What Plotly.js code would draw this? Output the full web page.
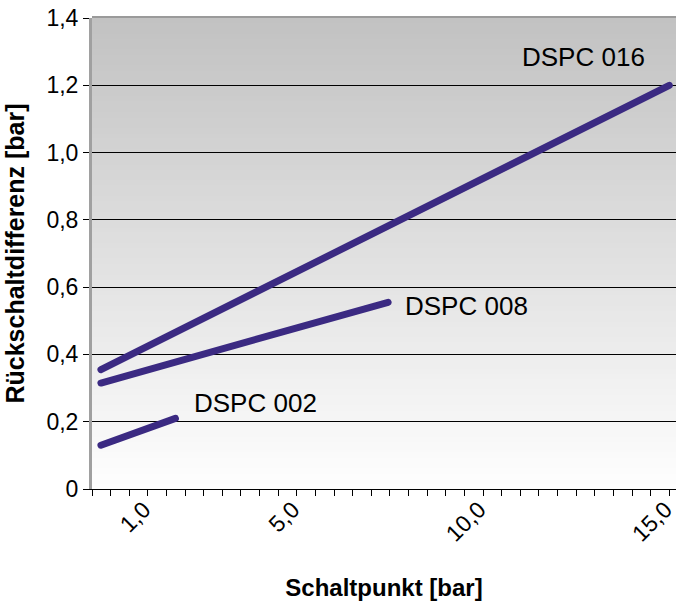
<!DOCTYPE html>
<html>
<head>
<meta charset="utf-8">
<script src="https://cdn.plot.ly/plotly-3.0.1.min.js"></script>
<style>
  html, body { margin: 0; padding: 0; background: #fff; }
  #chart { width: 676px; height: 601px; }
  .scatterlayer .js-line { stroke-linecap: round; }
</style>
</head>
<body>
<div id="chart"></div>
<script>
// ---- data ----
const seriesNames = ['DSPC 002', 'DSPC 008', 'DSPC 016'];
const dspc002X = [-0.26, 1.74];
const dspc002Y = [0.13, 0.21];
const dspc008X = [-0.26, 7.45];
const dspc008Y = [0.315, 0.555];
const dspc016X = [-0.26, 15.0];
const dspc016Y = [0.355, 1.2];

const xTickVals = [1, 5, 10, 15];
const xTickText = ['1,0', '5,0', '10,0', '15,0'];
const yTickVals = [0, 0.2, 0.4, 0.6, 0.8, 1.0, 1.2, 1.4];
const yTickText = ['0', '0,2', '0,4', '0,6', '0,8', '1,0', '1,2', '1,4'];

const xTitle = 'Schaltpunkt [bar]';
const yTitle = 'Rückschaltdifferenz [bar]';

// ---- styling ----
const lineColor = '#3b2a82';
const fontFamily = 'Liberation Sans, Arial, sans-serif';

const seriesX = [dspc002X, dspc008X, dspc016X];
const seriesY = [dspc002Y, dspc008Y, dspc016Y];
const traces = seriesNames.map((name, i) => ({
  type: 'scatter',
  mode: 'lines',
  name: name,
  x: seriesX[i],
  y: seriesY[i],
  line: { color: lineColor, width: 7 },
  hoverinfo: 'skip'
}));

// gradient background as horizontal bands (top grey -> bottom white)
const shapes = [];
const bands = 90;
for (let i = 0; i < bands; i++) {
  const t = i / (bands - 1);           // 0 at bottom, 1 at top
  const v = Math.round(254 - t * 60);
  shapes.push({
    type: 'rect', xref: 'paper', yref: 'paper', layer: 'below',
    x0: 0, x1: 1, y0: i / bands, y1: (i + 1) / bands + 0.002,
    fillcolor: `rgb(${v},${v},${v})`, line: { width: 0 }
  });
}
// grey top border just above the top gridline
shapes.push({
  type: 'line', xref: 'paper', yref: 'paper', layer: 'above',
  x0: 0, x1: 1, y0: 1, y1: 1, ysizemode: 'pixel', yanchor: 1,
  line: { color: '#9a9a9a', width: 2 }
});

// series labels (positions in data units)
const labelPos = [[2.19, 0.257], [7.85, 0.545], [11.0, 1.285]];
const annotations = seriesNames.map((name, i) => ({
  text: name, x: labelPos[i][0], y: labelPos[i][1],
  xref: 'x', yref: 'y', xanchor: 'left', yanchor: 'middle',
  showarrow: false, font: { family: fontFamily, size: 26, color: '#000' }
}));

const layout = {
  width: 676, height: 601,
  margin: { l: 92, r: 0, t: 18, b: 112, pad: 0 },
  paper_bgcolor: '#ffffff',
  plot_bgcolor: 'rgba(0,0,0,0)',
  showlegend: false,
  font: { family: fontFamily, color: '#000' },
  xaxis: {
    range: [-0.5, 15.18],
    tickmode: 'array', tickvals: xTickVals, ticktext: xTickText,
    tickangle: -45,
    tickfont: { family: fontFamily, size: 23, color: '#000' },
    ticklabelstandoff: -9, ticklabelshift: -4, ticklabeloverflow: 'allow',
    ticks: 'outside', ticklen: 6, tickcolor: '#000', tickwidth: 1,
    minor: { tick0: -0.5, dtick: 0.5, ticks: 'outside', ticklen: 6, tickcolor: '#000', tickwidth: 1, showgrid: false },
    showgrid: false, zeroline: false,
    showline: true, linecolor: '#000', linewidth: 1,
    title: { text: xTitle, font: { family: fontFamily, size: 24, color: '#000', weight: 'bold' }, standoff: 34 },
    automargin: false, fixedrange: true
  },
  yaxis: {
    range: [0, 1.4],
    tickmode: 'array', tickvals: yTickVals, ticktext: yTickText,
    tickfont: { family: fontFamily, size: 23, color: '#000' },
    ticks: 'outside', ticklen: 6, tickcolor: '#000', tickwidth: 1,
    showgrid: true, gridcolor: '#000', gridwidth: 1,
    zeroline: false,
    showline: true, linecolor: '#a0a0a0', linewidth: 3,
    title: { text: yTitle, font: { family: fontFamily, size: 25, color: '#000', weight: 'bold' }, standoff: 15 },
    automargin: false, fixedrange: true
  },
  shapes: shapes,
  annotations: annotations
};

Plotly.newPlot('chart', traces, layout, { displayModeBar: false, staticPlot: true });
</script>
</body>
</html>
